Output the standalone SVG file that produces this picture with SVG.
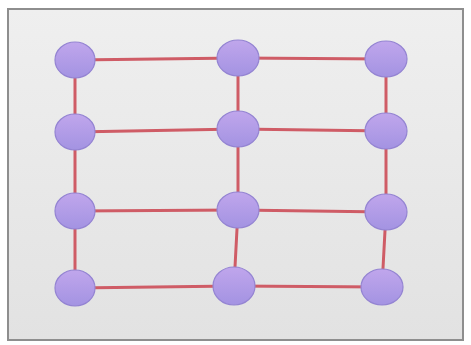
<svg xmlns="http://www.w3.org/2000/svg" width="471" height="345" viewBox="0 0 471 345">
  <defs>
    <linearGradient id="panelFill" x1="0" y1="0" x2="0" y2="1">
      <stop offset="0" stop-color="#efefef"/>
      <stop offset="1" stop-color="#e2e2e2"/>
    </linearGradient>
    <linearGradient id="nodeFill" x1="0" y1="0" x2="0" y2="1">
      <stop offset="0" stop-color="#c0a6ec"/>
      <stop offset="1" stop-color="#a393e2"/>
    </linearGradient>
    <filter id="soft" x="-20%" y="-20%" width="140%" height="140%">
      <feGaussianBlur stdDeviation="0.7"/>
    </filter>
  </defs>
  <style>
    .edge { stroke: #cf5c66; stroke-width: 3; fill: none; stroke-linecap: round; }
    .node { fill: url(#nodeFill); stroke: #9484d2; stroke-width: 1.2; }
  </style>

  <rect width="471" height="345" fill="#ffffff"/>
  <!-- panel -->
  <rect x="8" y="9" width="455" height="331" fill="url(#panelFill)" stroke="#8e8e8e" stroke-width="2"/>

  <!-- connectors -->
  <g id="connectors" filter="url(#soft)">
    <polyline class="edge" points="75,60 238,58 386,59"/>
    <polyline class="edge" points="75,132 238,129 386,131"/>
    <polyline class="edge" points="75,211 238,210 386,212"/>
    <polyline class="edge" points="75,288 234,286 382,287"/>
    <polyline class="edge" points="75,60 75,132 75,211 75,288"/>
    <polyline class="edge" points="238,58 238,129 238,210 234,286"/>
    <polyline class="edge" points="386,59 386,131 386,212 382,287"/>
  </g>

  <!-- nodes -->
  <g filter="url(#soft)">
    <g id="n11"><ellipse class="node" cx="75" cy="60" rx="20" ry="18"/></g>
    <g id="n12"><ellipse class="node" cx="238" cy="58" rx="21" ry="18"/></g>
    <g id="n13"><ellipse class="node" cx="386" cy="59" rx="21" ry="18"/></g>
    <g id="n21"><ellipse class="node" cx="75" cy="132" rx="20" ry="18"/></g>
    <g id="n22"><ellipse class="node" cx="238" cy="129" rx="21" ry="18"/></g>
    <g id="n23"><ellipse class="node" cx="386" cy="131" rx="21" ry="18"/></g>
    <g id="n31"><ellipse class="node" cx="75" cy="211" rx="20" ry="18"/></g>
    <g id="n32"><ellipse class="node" cx="238" cy="210" rx="21" ry="18"/></g>
    <g id="n33"><ellipse class="node" cx="386" cy="212" rx="21" ry="18"/></g>
    <g id="n41"><ellipse class="node" cx="75" cy="288" rx="20" ry="18"/></g>
    <g id="n42"><ellipse class="node" cx="234" cy="286" rx="21" ry="19"/></g>
    <g id="n43"><ellipse class="node" cx="382" cy="287" rx="21" ry="18"/></g>
  </g>
</svg>
